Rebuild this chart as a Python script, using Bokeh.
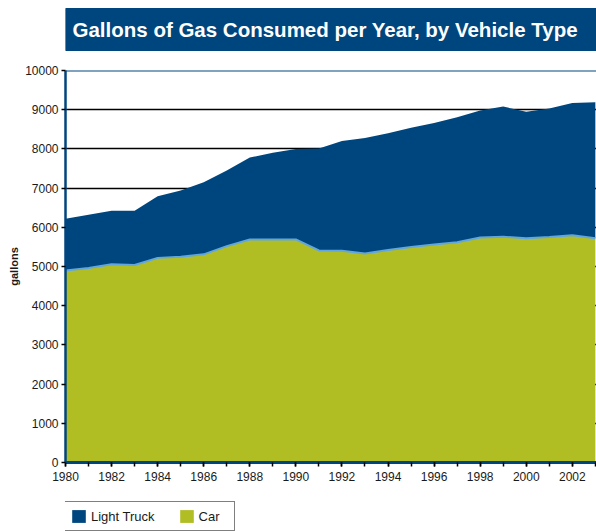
from bokeh.plotting import figure
from bokeh.layouts import column
from bokeh.models import Range1d, FixedTicker, Span, Legend, LegendItem, ColumnDataSource
from bokeh.core.properties import value
from bokeh.embed import file_html
from bokeh.resources import INLINE

# ---- data ----
years = list(range(1980, 2004))
car = [4900, 4960, 5060, 5040, 5220, 5250, 5310, 5520, 5690, 5690, 5690, 5410,
       5400, 5330, 5420, 5500, 5560, 5620, 5740, 5760, 5720, 5750, 5800, 5720]
light_truck = [1320, 1360, 1360, 1380, 1570, 1690, 1840, 1930, 2090, 2210, 2310, 2600,
               2800, 2950, 2980, 3040, 3100, 3190, 3240, 3320, 3230, 3280, 3370, 3470]
series_names = ["Light Truck", "Car"]
x_ticks = list(range(1980, 2003, 2))
y_ticks = list(range(0, 10001, 1000))
title_text = "Gallons of Gas Consumed per Year, by Vehicle Type"

BLUE = "#00467e"
OLIVE = "#b0bd23"
LIGHT = "#62a6dc"
FONT = "Liberation Sans"

# ---- title banner strip (frame aligned with the main frame; 1 unit = 1 px) ----
p0 = figure(width=596, height=55, output_backend="svg", toolbar_location=None,
            x_range=Range1d(0, 531), y_range=Range1d(0, 55),
            x_axis_type=None, y_axis_type=None, min_border=0)
p0.outline_line_color = None
p0.grid.visible = False
p0.quad(left=[0], right=[531], bottom=[5], top=[47], color=BLUE)
p0.text(x=[7], y=[26], text=[title_text], text_font=value(FONT), text_font_style="bold",
        text_font_size="20.5px", text_color="white", text_baseline="middle", text_align="left")

# ---- main chart ----
source = ColumnDataSource(dict(year=years, car=car, light_truck=light_truck))

p = figure(width=596, height=440, output_backend="svg", toolbar_location=None,
           x_range=Range1d(1980, 2003.05), y_range=Range1d(0, 10000),
           min_border_left=65, min_border_right=0, min_border_top=15, min_border_bottom=33)
p.outline_line_color = None
p.background_fill_color = "white"
p.border_fill_color = "white"

# areas
rs = p.varea_stack(stackers=["car", "light_truck"], x="year", color=[OLIVE, BLUE], source=source)
p.line(x="year", y="car", source=source, line_color=LIGHT, line_width=2)

# grid
p.xgrid.grid_line_color = None
p.ygrid.ticker = FixedTicker(ticks=y_ticks)
p.ygrid.grid_line_color = "black"
p.ygrid.grid_line_width = 1.6

# top border
p.add_layout(Span(location=10000, dimension="width", line_color=BLUE, line_width=2))

# axes
ya = p.yaxis[0]
ya.ticker = FixedTicker(ticks=y_ticks)
ya.axis_line_color = BLUE
ya.axis_line_width = 2.5
ya.major_tick_in = 0
ya.major_tick_out = 4
ya.major_tick_line_color = "black"
ya.major_tick_line_width = 1.5
ya.minor_tick_line_color = None
ya.major_label_standoff = 3
ya.major_label_text_font = FONT
ya.major_label_text_font_size = "12px"
ya.major_label_text_color = "#1a1a1a"
ya.axis_label = "gallons"
ya.axis_label_text_font = FONT
ya.axis_label_text_font_style = "bold"
ya.axis_label_text_font_size = "11px"
ya.axis_label_text_color = "#1a1a1a"
ya.axis_label_standoff = 2

xa = p.xaxis[0]
xa.ticker = FixedTicker(ticks=x_ticks, minor_ticks=years)
xa.axis_line_color = BLUE
xa.axis_line_width = 3
xa.major_tick_in = 0
xa.major_tick_out = 4
xa.minor_tick_in = 0
xa.minor_tick_out = 4
xa.major_tick_line_color = "black"
xa.minor_tick_line_color = "black"
xa.major_tick_line_width = 1.5
xa.minor_tick_line_width = 1.5
xa.major_label_standoff = 5
xa.major_label_text_font = FONT
xa.major_label_text_font_size = "12px"
xa.major_label_text_color = "#1a1a1a"

# ---- legend strip (frame aligned with the main frame) ----
p2 = figure(width=596, height=36, output_backend="svg", toolbar_location=None,
            x_range=Range1d(0, 1), y_range=Range1d(0, 1),
            x_axis_type=None, y_axis_type=None, min_border=0)
p2.outline_line_color = None
p2.grid.visible = False
r_truck = p2.varea(x=[0, 1], y1=[-2, -2], y2=[-1, -1], color=BLUE)
r_car = p2.varea(x=[0, 1], y1=[-2, -2], y2=[-1, -1], color=OLIVE)
legend = Legend(items=[LegendItem(label=series_names[0], renderers=[r_truck]),
                       LegendItem(label=series_names[1], renderers=[r_car])],
                orientation="horizontal", location=(-2, 0),
                glyph_width=17, glyph_height=16, label_standoff=4, label_width=29,
                label_height=16, spacing=23, padding=6, margin=0,
                border_line_color="black", border_line_width=1,
                label_text_font=FONT, label_text_font_size="13px",
                label_text_color="#1a1a1a", background_fill_alpha=1)
p2.add_layout(legend, "center")

layout = column(p0, p, p2, spacing=0)
open("out.html", "w").write(file_html(layout, INLINE))
